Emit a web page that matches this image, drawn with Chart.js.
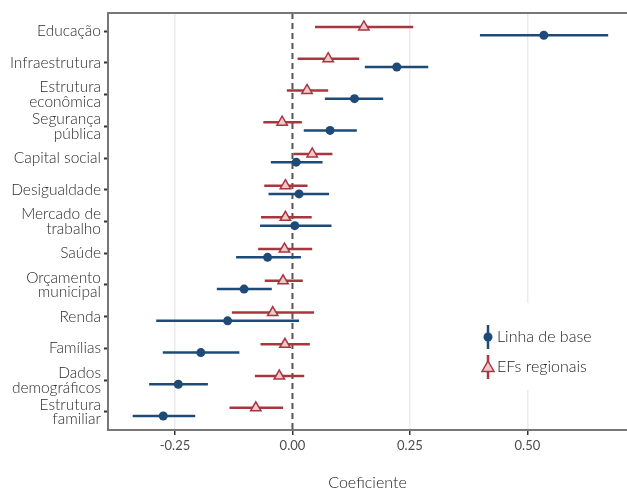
<!DOCTYPE html>
<html lang="pt">
<head>
<meta charset="utf-8">
<title>Coeficientes por dimensão</title>
<script src="https://cdn.jsdelivr.net/npm/chart.js@4/dist/chart.umd.min.js"></script>
<style>
  html, body { margin: 0; padding: 0; background: #fff; }
  #wrap { width: 627px; height: 492px; }
</style>
</head>
<body>
<div id="wrap"><canvas id="coefChart" width="627" height="492"></canvas></div>
<script>
// dimensions, top to bottom
const categorias = [
  'Educação', 'Infraestrutura', ['Estrutura', 'econômica'], ['Segurança', 'pública'],
  'Capital social', 'Desigualdade', ['Mercado de', 'trabalho'], 'Saúde',
  ['Orçamento', 'municipal'], 'Renda', 'Famílias', ['Dados', 'demográficos'],
  ['Estrutura', 'familiar']
];

// baseline model: estimate and interval bounds
const baseCoef = [0.535, 0.222, 0.132, 0.080, 0.008, 0.014, 0.005, -0.053, -0.103, -0.138, -0.195, -0.243, -0.275];
const baseLo   = [0.399, 0.154, 0.069, 0.024, -0.046, -0.051, -0.069, -0.120, -0.161, -0.290, -0.276, -0.305, -0.340];
const baseHi   = [0.672, 0.289, 0.193, 0.137, 0.064, 0.078, 0.083, 0.018, -0.044, 0.014, -0.113, -0.180, -0.207];

// regional fixed effects model
const regCoef = [0.152, 0.076, 0.031, -0.022, 0.042, -0.015, -0.015, -0.017, -0.020, -0.042, -0.016, -0.028, -0.078];
const regLo   = [0.048, 0.011, -0.012, -0.062, 0.002, -0.060, -0.067, -0.073, -0.059, -0.129, -0.068, -0.080, -0.134];
const regHi   = [0.257, 0.142, 0.076, 0.020, 0.085, 0.032, 0.041, 0.042, 0.022, 0.046, 0.037, 0.025, -0.020];

const xTicks = [-0.25, 0, 0.25, 0.5];
const serieNomes = ['Linha de base', 'EFs regionais'];

const AZUL = '#1d4a77';
const VERMELHO = '#a8363f';
const ROSA = '#f1c9cd';
const DODGE = 0.13;
const FONT = 'Lato, "Open Sans", sans-serif';

const pts = (vals, off) => vals.map((v, i) => ({ x: v, y: i + off }));

// error bars, zero reference line, panel top edge and legend
const coefPlugin = {
  id: 'coefPlugin',
  afterLayout(chart) {
    // let the panel run right up to the canvas edge
    const ca = chart.chartArea;
    const folga = chart.width - ca.right;
    if (folga <= 0) return;
    ca.right += folga;
    ca.width += folga;
    const x = chart.scales.x;
    x.right += folga;
    x.width += folga;
    x.configure();
  },
  beforeDatasetsDraw(chart) {
    const { ctx, chartArea, scales: { x, y } } = chart;
    ctx.save();
    // dashed line at zero
    ctx.strokeStyle = '#555';
    ctx.lineWidth = 2;
    ctx.setLineDash([6, 4]);
    const x0 = x.getPixelForValue(0);
    ctx.beginPath();
    ctx.moveTo(x0, chartArea.top);
    ctx.lineTo(x0, chartArea.bottom);
    ctx.stroke();
    ctx.setLineDash([]);

    const bars = (lo, hi, off, color) => {
      ctx.strokeStyle = color;
      ctx.lineWidth = 2.5;
      lo.forEach((l, i) => {
        const py = y.getPixelForValue(i + off);
        ctx.beginPath();
        ctx.moveTo(x.getPixelForValue(l), py);
        ctx.lineTo(x.getPixelForValue(hi[i]), py);
        ctx.stroke();
      });
    };
    bars(baseLo, baseHi, DODGE, AZUL);
    bars(regLo, regHi, -DODGE, VERMELHO);
    ctx.restore();
  },
  afterDatasetsDraw(chart) {
    const { ctx, chartArea } = chart;
    ctx.save();
    // top edge of the panel
    ctx.strokeStyle = '#777';
    ctx.lineWidth = 2;
    ctx.beginPath();
    ctx.moveTo(chartArea.left, chartArea.top);
    ctx.lineTo(chartArea.right, chartArea.top);
    ctx.stroke();

    // legend
    ctx.fillStyle = '#fff';
    ctx.fillRect(478, 303, 144, 87);
    const entradas = [
      { nome: serieNomes[0], cor: AZUL, y: 337, tri: false },
      { nome: serieNomes[1], cor: VERMELHO, y: 367, tri: true }
    ];
    const gx = 488;
    entradas.forEach(e => {
      ctx.strokeStyle = e.cor;
      ctx.lineWidth = 2.5;
      ctx.beginPath();
      ctx.moveTo(gx, e.y - 12);
      ctx.lineTo(gx, e.y + 12);
      ctx.stroke();
      if (e.tri) {
        ctx.fillStyle = ROSA;
        ctx.lineWidth = 1.5;
        ctx.beginPath();
        ctx.moveTo(gx, e.y - 6);
        ctx.lineTo(gx + 6, e.y + 4.5);
        ctx.lineTo(gx - 6, e.y + 4.5);
        ctx.closePath();
        ctx.fill();
        ctx.stroke();
      } else {
        ctx.fillStyle = e.cor;
        ctx.beginPath();
        ctx.arc(gx, e.y, 4.5, 0, Math.PI * 2);
        ctx.fill();
      }
      ctx.fillStyle = '#222';
      ctx.font = '300 16px ' + FONT;
      ctx.textBaseline = 'middle';
      ctx.textAlign = 'left';
      ctx.fillText(e.nome, gx + 9, e.y);
    });
    ctx.restore();
  }
};

new Chart(document.getElementById('coefChart'), {
  type: 'scatter',
  data: {
    datasets: [
      {
        label: serieNomes[1],
        data: pts(regCoef, -DODGE),
        pointStyle: 'triangle',
        pointRadius: 6,
        pointBackgroundColor: ROSA,
        pointBorderColor: VERMELHO,
        pointBorderWidth: 1.5
      },
      {
        label: serieNomes[0],
        data: pts(baseCoef, DODGE),
        pointStyle: 'circle',
        pointRadius: 4.5,
        pointBackgroundColor: AZUL,
        pointBorderColor: AZUL,
        pointBorderWidth: 0
      }
    ]
  },
  options: {
    responsive: false,
    animation: false,
    events: [],
    layout: { padding: { top: 13, right: 0, left: 0, bottom: 0 } },
    plugins: { legend: { display: false }, tooltip: { enabled: false } },
    scales: {
      x: {
        type: 'linear',
        min: -0.3926,
        max: 0.712,
        afterBuildTicks: s => { s.ticks = xTicks.map(v => ({ value: v })); },
        afterFit: s => { s.height = 62; s.paddingLeft = 0; s.paddingRight = 0; },
        grid: {
          color: c => (c.tick && c.tick.value === 0) ? 'rgba(0,0,0,0)' : '#ebebeb',
          lineWidth: 1.5,
          tickColor: '#333',
          tickLength: 5,
          tickWidth: 1.5
        },
        border: { color: '#777', width: 2 },
        ticks: {
          callback: v => v.toFixed(2),
          color: '#4d4d4d',
          font: { family: FONT, size: 13 },
          padding: 3,
          maxRotation: 0
        },
        title: {
          display: true,
          text: 'Coeficiente',
          color: '#222',
          font: { family: FONT, size: 16, weight: 300 },
          padding: { top: 14, bottom: 0 }
        }
      },
      y: {
        type: 'linear',
        reverse: true,
        min: -0.57,
        max: categorias.length - 0.43,
        afterBuildTicks: s => { s.ticks = categorias.map((_, i) => ({ value: i })); },
        afterFit: s => { s.width = 108; s.paddingTop = 0; s.paddingBottom = 0; },
        grid: {
          drawOnChartArea: false,
          drawTicks: true,
          tickLength: 4,
          tickColor: '#333',
          tickWidth: 2
        },
        border: { color: '#777', width: 2 },
        ticks: {
          autoSkip: false,
          callback: v => categorias[v],
          color: '#2b2b2b',
          font: { family: FONT, size: 15.5, weight: 300, lineHeight: 0.95 },
          padding: 3
        }
      }
    }
  },
  plugins: [coefPlugin]
});
</script>
</body>
</html>
